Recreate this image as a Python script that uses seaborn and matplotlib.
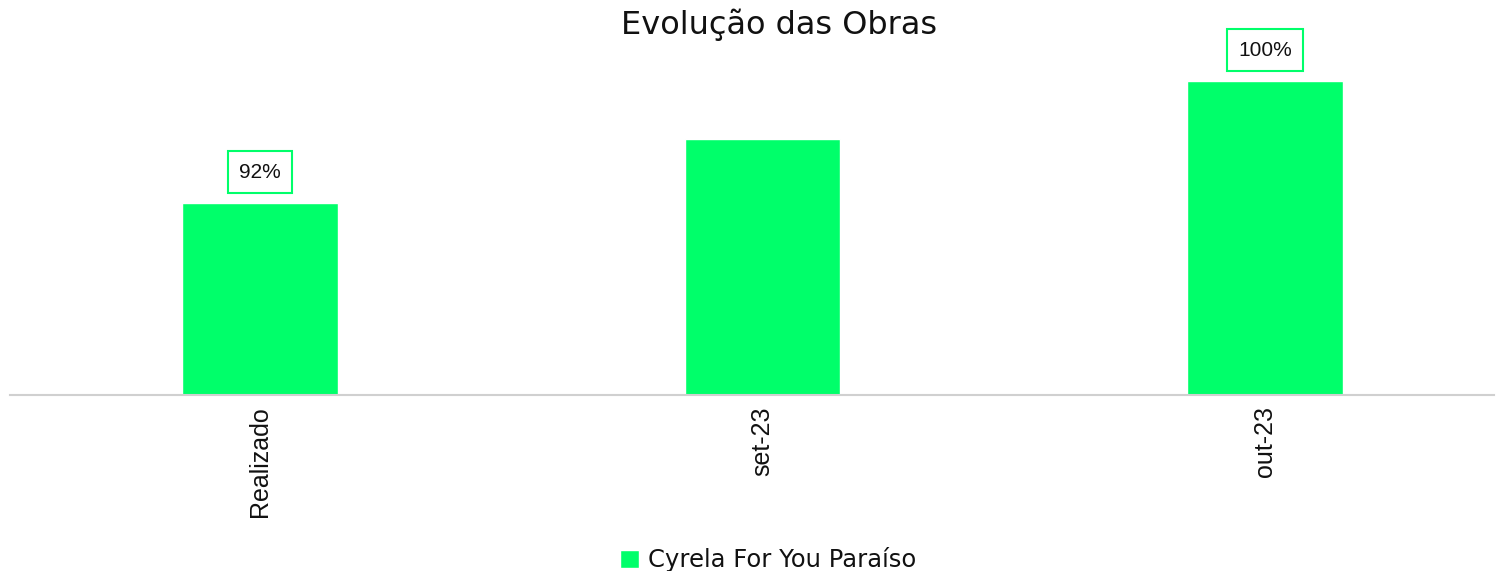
import matplotlib
matplotlib.use("Agg")
import matplotlib.pyplot as plt
import seaborn as sns
import pandas as pd

categories = ["Realizado", "set-23", "out-23"]
values = [92, 96.2, 100]
labels = ["92%", None, "100%"]
series_name = "Cyrela For You Paraíso"

sns.set_theme(style="white")
plt.rcParams["font.family"] = ["Liberation Sans", "DejaVu Sans"]

df = pd.DataFrame({"cat": categories, "val": values, "serie": series_name})

fig = plt.figure(figsize=(15.04, 5.71), dpi=100)
ax = fig.add_axes([10/1504, (571-395)/571, 1484/1504, 335/571])

green = "#00FF6A"
sns.barplot(data=df, x="cat", y="val", hue="serie", palette=[green],
            width=0.31, ax=ax, legend=True, saturation=1)

ax.set_ylim(79.4, 79.4 + 335/15.25)
ax.set_xlim(-0.4975, 2.456)

for i, (v, lab) in enumerate(zip(values, labels)):
    if lab:
        ax.annotate(lab, (i, v), xytext=(0, 22), textcoords="offset points",
                    ha="center", va="center", fontsize=15, color="#111111",
                    bbox=dict(boxstyle="square,pad=0.55", fc="white", ec=green, lw=1.5))

for s in ["top", "right", "left"]:
    ax.spines[s].set_visible(False)
ax.spines["bottom"].set_color("#d0d0d0")
ax.spines["bottom"].set_linewidth(1.5)
ax.set_yticks([])
ax.set_xlabel("")
ax.set_ylabel("")
ax.tick_params(axis="x", labelrotation=90, labelsize=18, length=0, pad=8, colors="#111111")

fig.text(779/1504, 1 - 25/571, "Evolução das Obras", ha="center", va="center",
         fontsize=23, family=["DejaVu Sans"], color="#111111")

handles, labs = ax.get_legend_handles_labels()
ax.get_legend().remove()
leg = fig.legend(handles, labs, loc="center", bbox_to_anchor=(768/1504, 11/571),
                 frameon=False, prop={"family": "DejaVu Sans", "size": 17.5},
                 handlelength=0.8, handleheight=0.8, handletextpad=0.35, borderpad=0)
for t in leg.get_texts():
    t.set_color("#111111")
fig.savefig("out.png", dpi=100)
